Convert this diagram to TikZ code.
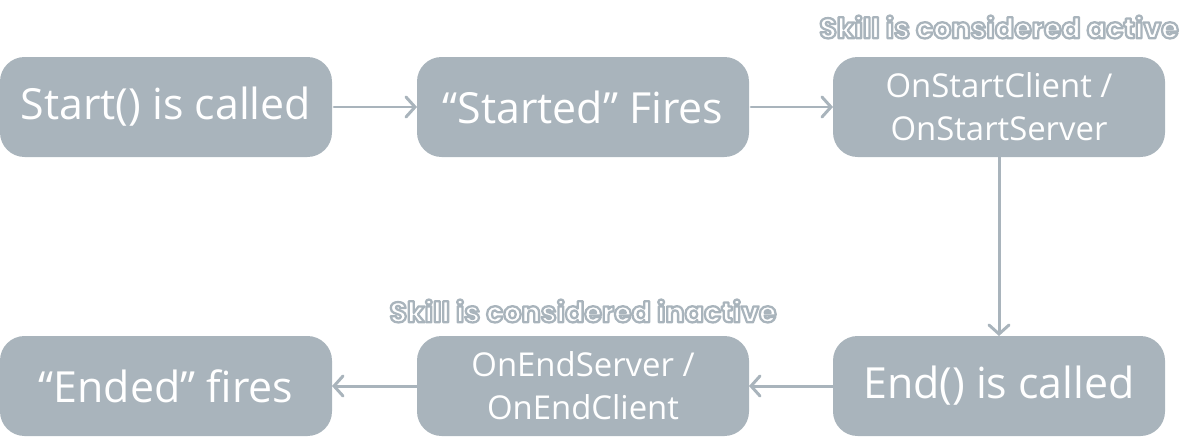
\documentclass[tikz,border=0pt]{standalone}
\usepackage{fontspec}
\setmainfont{Open Sans}
\newfontfamily\lblfont{Poppins}
\usetikzlibrary{positioning,arrows.meta}
\definecolor{cBox}{RGB}{169,180,188}
% testo bianco con contorno grigio (modo di resa 2 del PDF)
\newcommand{\outlined}[1]{\special{pdf:literal direct 2 Tr 1.3 w 1 j 0.663 0.706 0.737 RG}#1\special{pdf:literal direct 0 Tr 0 w}}

\begin{document}
\begin{tikzpicture}[
  box/.style   = {fill=cBox, rounded corners=14pt, align=center, text=white,
                  minimum width=6.64cm, minimum height=2cm, inner sep=0pt,
                  outer sep=0pt, font=\fontsize{24.4}{30}\selectfont},
  small/.style = {font=\fontsize{18.7}{24.4}\selectfont},
  flow/.style  = {-{Straight Barb[length=1.8mm, width=4mm, line cap=round]},
                  line width=1.7pt, draw=cBox, line cap=round},
  tag/.style   = {font=\lblfont\bfseries\fontsize{16.2}{18}\selectfont, text=white}
]
\useasboundingbox (0,0) rectangle (23.82,-8.74);

% ------------------------------------------------------------- in alto --
\node[box] (start) at (3.32,-2.14) {Start() is called};
\node[box, right=1.7cm of start]   (started) {“Started” Fires};
\node[box, small, right=1.68cm of started] (onstart) {OnStartClient /\\OnStartServer};

% ------------------------------------------------------------- in basso --
\node[box, below=3.58cm of onstart] (endc)  {End() is called};
\node[box, small, left=1.68cm of endc] (onend) {OnEndServer /\\OnEndClient};
\node[box, left=1.7cm of onend]   (ended) {“Ended” fires};

% --------------------------------------------------------------- archi --
\draw[flow] (start.east)   ++(0.04,0) -- (started.west);
\draw[flow] (started.east) ++(0.04,0) -- (onstart.west);
\draw[flow] (onstart)  -- (endc);
\draw[flow] (endc)     -- (onend);
\draw[flow] (onend)    -- (ended);

% ------------------------------------------------------------ etichette --
\node[tag] (act)   at ([yshift=0.6cm]onstart.north) {\outlined{Skill is considered active}};
\node[tag] (inact) at ([yshift=0.5cm]onend.north)   {\outlined{Skill is considered inactive}};

\end{tikzpicture}
\end{document}
